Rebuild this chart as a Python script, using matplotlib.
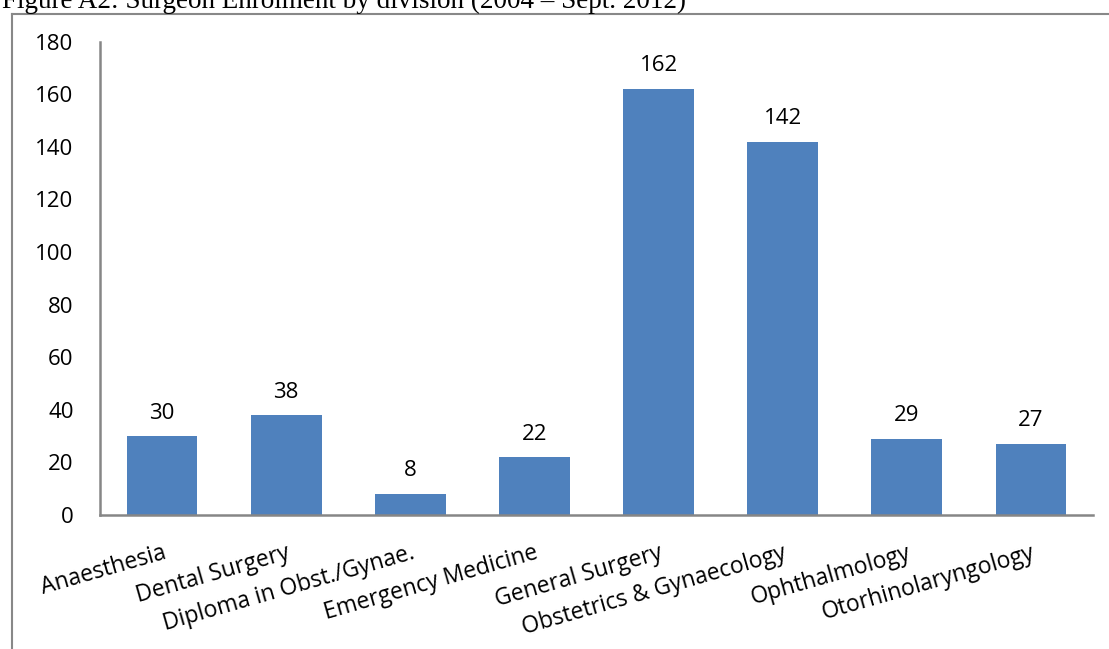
import matplotlib
matplotlib.use("Agg")
import matplotlib.pyplot as plt
from matplotlib.lines import Line2D

categories = ["Anaesthesia", "Dental Surgery", "Diploma in Obst./Gynae.",
              "Emergency Medicine", "General Surgery", "Obstetrics & Gynaecology",
              "Ophthalmology", "Otorhinolaryngology"]
values = [30, 38, 8, 22, 162, 142, 29, 27]
yticks = [0, 20, 40, 60, 80, 100, 120, 140, 160, 180]
title = "Figure A2: Surgeon Enrolment by division (2004 \u2013 Sept. 2012)"

W, H = 1109, 649
fig = plt.figure(figsize=(W / 100, H / 100), dpi=100)
font = "Open Sans"
fs = 16

# title (partly cropped at top)
fig.text(2 / W, 1 - 8 / H, title, family="Liberation Serif", fontsize=19.5,
         ha="left", va="baseline")

# outer frame lines
frame_col = "#888888"
fig.add_artist(Line2D([12 / W, 12 / W], [0, 1 - 14 / H], transform=fig.transFigure,
                      color=frame_col, lw=1.5))
fig.add_artist(Line2D([12 / W, 1], [1 - 14 / H, 1 - 14 / H], transform=fig.transFigure,
                      color=frame_col, lw=1.5))

left, right = 100 / W, 1093 / W
bottom, top = 1 - 515 / H, 1 - 41.6 / H
ax = fig.add_axes([left, bottom, right - left, top - bottom])

x = range(len(categories))
bars = ax.bar(x, values, width=0.57, color="#4F81BD")
ax.set_xlim(-0.5, len(categories) - 0.5)
ax.set_ylim(0, 180)
ax.set_yticks(yticks)
ax.set_yticklabels([str(t) for t in yticks], family=font, fontsize=fs)
ax.set_xticks(list(x))
ax.set_xticklabels(categories, family=font, fontsize=16.5)
plt.setp(ax.get_xticklabels(), rotation=16, ha="right", va="top", rotation_mode="anchor")
ax.tick_params(axis="y", length=0, pad=19)
ax.tick_params(axis="x", length=0, pad=19)

for s in ["top", "right"]:
    ax.spines[s].set_visible(False)
for s in ["left", "bottom"]:
    ax.spines[s].set_color("#868686")
    ax.spines[s].set_linewidth(1.8)

for xi, v in zip(x, values):
    ax.annotate(str(v), (xi, v), xytext=(0, 9), textcoords="offset points",
                ha="center", va="bottom", family=font, fontsize=fs)

fig.savefig("out.png", dpi=100)
